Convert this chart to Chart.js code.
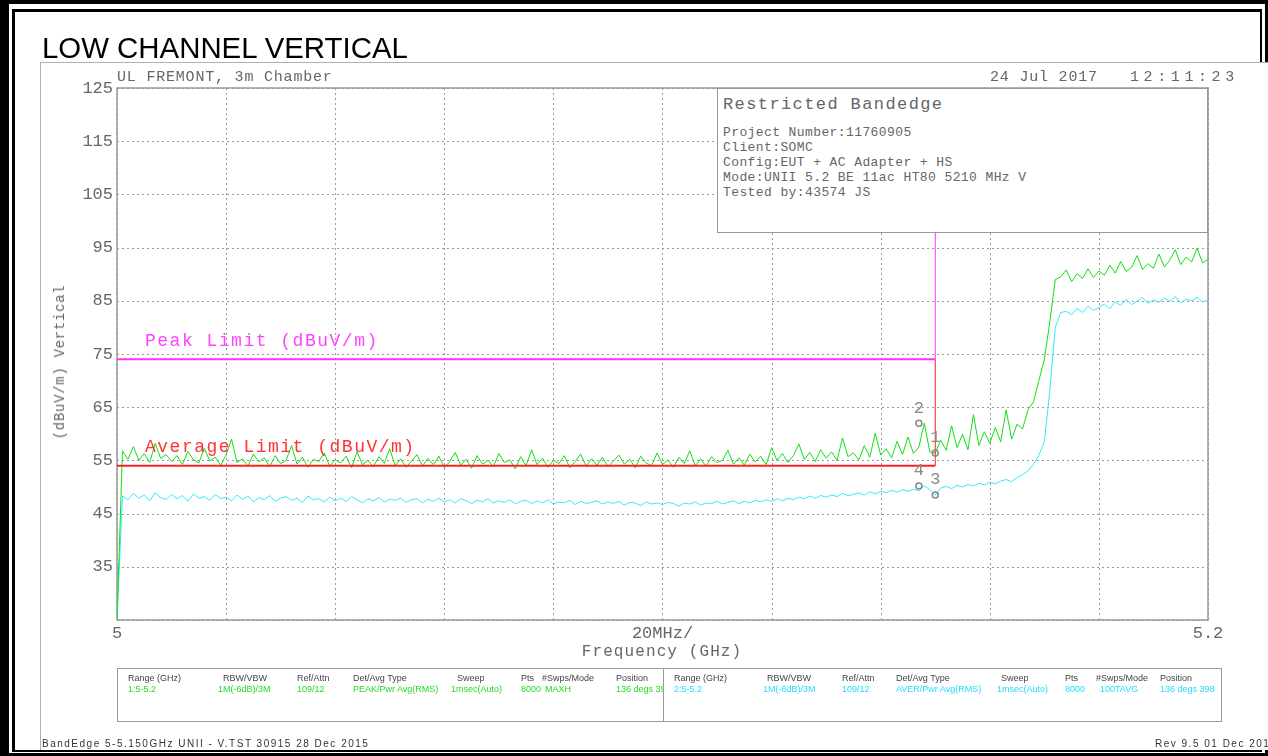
<!DOCTYPE html>
<html>
<head>
<meta charset="utf-8">
<script src="https://cdn.jsdelivr.net/npm/chart.js@4.4.1/dist/chart.umd.min.js"></script>
<style>
  body { margin: 0; width: 1268px; height: 756px; overflow: hidden; background: #fff; position: relative; }
  .abs { position: absolute; white-space: pre; line-height: 1; }
  #outer { position: absolute; left: 0; top: 0; width: 1268px; height: 756px; box-sizing: border-box;
           border-style: solid; border-color: #000; border-width: 4px 3px 3px 9px; }
  #inner { position: absolute; left: 12px; top: 9px; width: 1250px; height: 743px; box-sizing: border-box;
           border: 3px solid #000; border-right-width: 2px; border-bottom-width: 2px; }
  #img { position: absolute; left: 40px; top: 62px; width: 1228px; height: 688px; box-sizing: border-box;
         background: #fff; border-left: 1.5px solid #b0b0b0; border-top: 1.5px solid #b0b0b0; }
  #chart { position: absolute; left: 0; top: 0; }
  .plot { font-family: "Liberation Mono", "DejaVu Sans Mono", monospace; color: #666; }
  #info { position: absolute; left: 717px; top: 88px; width: 491px; height: 145px; box-sizing: border-box;
          background: #fff; border: 1.5px solid #999; }
  .tbl { position: absolute; top: 668px; height: 54px; box-sizing: border-box; overflow: hidden; }
  .tbl span { position: absolute; white-space: pre; line-height: 1; font-family: "Liberation Sans Narrow", "Liberation Sans", sans-serif; font-size: 9px; }
  .hd { color: #444; top: 5px; }
  .g { color: #22dd22; top: 16px; }
  .c { color: #22ddff; top: 16px; }
  .foot { font-family: "Liberation Sans Narrow", "Liberation Sans", sans-serif; font-size: 10px; letter-spacing: 1.5px; color: #333; }
</style>
</head>
<body>
<div id="outer"></div>
<div id="inner"></div>
<div id="img"></div>
<canvas id="chart" width="1268" height="756"></canvas>

<div class="abs" style="left:42px;top:33px;font-family:'Liberation Sans',Arial,sans-serif;font-size:29.4px;color:#000;">LOW CHANNEL VERTICAL</div>

<div class="abs plot" style="left:117px;top:70px;font-size:15px;letter-spacing:0.8px;">UL FREMONT, 3m Chamber</div>
<div class="abs plot" style="left:990px;top:70px;font-size:15px;letter-spacing:0.8px;">24 Jul 2017</div>
<div class="abs plot" style="left:1130px;top:70px;font-size:15px;letter-spacing:4.6px;">12:11:23</div>

<div id="info">
  <div class="abs plot" style="left:5px;top:7px;font-size:17px;letter-spacing:1.4px;">Restricted Bandedge</div>
  <div class="abs plot" style="left:5px;top:36px;font-size:13px;letter-spacing:0.4px;line-height:15px;">Project Number:11760905
Client:SOMC
Config:EUT + AC Adapter + HS
Mode:UNII 5.2 BE 11ac HT80 5210 MHz V
Tested by:43574 JS</div>
</div>

<div class="abs plot" style="left:145px;top:332px;font-size:18px;letter-spacing:1.5px;color:#ff44ff;">Peak Limit (dBuV/m)</div>
<div class="abs plot" style="left:145px;top:438px;font-size:18px;letter-spacing:1.5px;color:#ff3333;">Average Limit (dBuV/m)</div>

<div class="abs plot" style="left:60px;top:362px;font-size:14px;letter-spacing:0.7px;transform:translate(-50%,-50%) rotate(-90deg);">(dBuV/m) Vertical</div>
<div class="abs plot" style="left:662px;top:652px;font-size:16px;letter-spacing:1.1px;transform:translate(-50%,-50%);">Frequency (GHz)</div>

<div class="tbl" style="left:117px;width:547px;border:1.5px solid #999;">
  <span class="hd" style="left:10px">Range (GHz)</span>
  <span class="hd" style="left:105px">RBW/VBW</span>
  <span class="hd" style="left:179px">Ref/Attn</span>
  <span class="hd" style="left:235px">Det/Avg Type</span>
  <span class="hd" style="left:339px">Sweep</span>
  <span class="hd" style="left:403px">Pts</span>
  <span class="hd" style="left:424px">#Swps/Mode</span>
  <span class="hd" style="left:498px">Position</span>
  <span class="g" style="left:10px">1:5-5.2</span>
  <span class="g" style="left:100px">1M(-6dB)/3M</span>
  <span class="g" style="left:179px">109/12</span>
  <span class="g" style="left:235px">PEAK/Pwr Avg(RMS)</span>
  <span class="g" style="left:333px">1msec(Auto)</span>
  <span class="g" style="left:403px">8000</span>
  <span class="g" style="left:427px">MAXH</span>
  <span class="g" style="left:498px">136 degs 398</span>
</div>
<div class="tbl" style="left:663px;width:559px;border:1.5px solid #999;border-left:none;">
  <span class="hd" style="left:11px">Range (GHz)</span>
  <span class="hd" style="left:104px">RBW/VBW</span>
  <span class="hd" style="left:179px">Ref/Attn</span>
  <span class="hd" style="left:233px">Det/Avg Type</span>
  <span class="hd" style="left:338px">Sweep</span>
  <span class="hd" style="left:402px">Pts</span>
  <span class="hd" style="left:433px">#Swps/Mode</span>
  <span class="hd" style="left:497px">Position</span>
  <span class="c" style="left:11px">2:5-5.2</span>
  <span class="c" style="left:100px">1M(-6dB)/3M</span>
  <span class="c" style="left:179px">109/12</span>
  <span class="c" style="left:233px">AVER/Pwr Avg(RMS)</span>
  <span class="c" style="left:334px">1msec(Auto)</span>
  <span class="c" style="left:402px">8000</span>
  <span class="c" style="left:437px">100TAVG</span>
  <span class="c" style="left:497px">136 degs 398</span>
</div>

<div class="abs foot" style="left:42px;top:739px;">BandEdge 5-5.150GHz UNII - V.TST 30915 28 Dec 2015</div>
<div class="abs foot" style="left:1155px;top:739px;">Rev 9.5 01 Dec 2015</div>

<script>
// sweep: 5.000 .. 5.200 GHz, one reading per MHz
const startGHz = 5.0;
const stepGHz = 0.001;

// trace 1, MAXH peak (dBuV/m)
const peakTrace = [
  25,
  56.8, 55.2, 57.6, 55.0, 56.3, 54.6, 58.2, 55.4, 56.1, 54.8,
  55.9, 54.2, 56.7, 55.1, 54.5, 57.3, 54.9, 55.6, 54.1, 56.0,
  59.0, 54.6, 55.3, 53.9, 56.2, 54.7, 55.5, 53.8, 55.9, 54.4,
  55.0, 57.8, 54.3, 55.6, 53.7, 55.2, 54.8, 56.4, 53.9, 55.1,
  54.5, 55.8, 53.6, 56.6, 54.2, 55.0, 53.8, 55.7, 54.4, 57.2,
  54.0, 55.3, 53.7, 54.9, 56.1, 53.9, 55.4, 54.2, 55.8, 53.6,
  54.8, 56.5, 54.1, 55.2, 53.5, 55.9, 54.3, 55.0, 53.8, 56.3,
  54.6, 55.1, 53.4, 55.7, 54.0, 57.0, 54.2, 55.4, 53.7, 55.0,
  54.4, 55.9, 53.6, 54.8, 56.2, 53.9, 55.3, 54.1, 55.6, 53.8,
  54.9, 56.0, 54.3, 55.2, 53.6, 55.8, 54.5, 54.0, 56.4, 54.2,
  55.1, 53.7, 55.6, 54.4, 56.8, 54.0, 55.3, 53.9, 55.7, 54.6,
  55.0, 56.9, 54.3, 55.5, 54.1, 56.2, 54.7, 55.8, 54.2, 57.4,
  55.0, 56.3, 54.6, 55.9, 58.1, 55.2, 56.5, 54.8, 57.0, 55.4,
  56.6, 55.0, 59.2, 55.7, 56.4, 55.1, 57.8, 55.6, 60.1, 56.0,
  57.2, 55.5, 58.6, 56.1, 59.4, 56.3, 57.5, 62.0, 56.6, 56.4,
  58.8, 56.9, 61.5, 57.4, 59.9, 57.0, 63.6, 57.8, 60.4, 58.2,
  61.2, 58.5, 64.5, 59.0, 61.8, 60.9, 64.5, 66.0, 70.0, 74.0,
  81.0, 89.0, 89.5, 90.8, 88.6, 90.1, 89.2, 91.0, 89.4, 90.6,
  89.8, 91.7, 90.2, 92.4, 90.5, 91.3, 93.5, 90.9, 92.0, 91.1,
  93.8, 91.4, 92.6, 94.6, 91.8, 93.2, 92.3, 94.9, 92.1, 92.8
];

// trace 2, 100 sweep RMS average (dBuV/m)
const avgTrace = [
  25,
  48.3, 47.6, 48.8, 47.9, 48.5, 47.4, 48.9, 48.0, 47.7, 48.6,
  47.8, 48.4, 47.3, 48.7, 47.9, 48.2, 47.5, 48.6, 47.8, 48.1,
  47.4, 48.5, 47.7, 48.3, 47.2, 48.0, 47.6, 48.4, 47.3, 47.9,
  48.2, 47.5, 47.9, 47.1, 48.3, 47.6, 47.8, 47.2, 48.1, 47.4,
  47.9, 47.3, 48.2, 47.6, 47.0, 47.8, 47.4, 48.0, 47.2, 47.7,
  47.5, 47.9, 47.1, 47.6, 47.8, 47.0, 47.7, 47.3, 47.9, 47.2,
  47.6, 47.0, 47.8, 47.4, 46.9, 47.5, 47.2, 47.8, 47.0, 47.4,
  47.1, 47.6, 46.8, 47.3, 47.5, 46.9, 47.4, 47.0, 47.6, 46.8,
  47.2, 47.0, 47.5, 46.7, 47.3, 46.9, 47.1, 47.4, 46.8, 47.2,
  46.9, 47.3, 46.6, 47.1, 47.0, 46.5, 47.2, 46.8, 47.0, 46.7,
  47.1, 46.9, 46.4, 47.0, 46.8, 47.2, 46.6, 47.0, 46.9, 47.3,
  46.8, 47.1, 47.4, 46.9, 47.3, 47.0, 47.5, 47.2, 47.6, 47.3,
  47.8, 47.4, 47.9, 47.6, 48.1, 47.8, 48.3, 47.9, 48.4, 48.1,
  48.5, 48.2, 48.8, 48.4, 48.6, 48.9, 48.5, 49.1, 48.7, 49.2,
  48.9, 49.4, 49.0, 49.5, 49.2, 49.6, 49.3, 50.2, 49.5, 48.5,
  49.8, 50.1, 49.7, 50.3, 50.0, 50.5, 50.2, 50.7, 50.4, 50.9,
  50.6, 51.1, 51.4, 51.0, 51.8, 52.3, 53.0, 54.2, 56.0, 58.5,
  68.0, 80.0, 82.8, 83.0, 82.4, 83.6, 82.8, 84.0, 83.2, 83.7,
  84.4, 83.5, 84.8, 84.1, 85.3, 84.3, 84.9, 85.6, 84.5, 85.2,
  84.7, 85.5, 84.9, 85.8, 84.6, 85.3, 85.0, 85.7, 84.8, 85.1
];

// limit lines (GHz, dBuV/m)
const limitFreqs = [5.0, 5.15, 5.15];
const peakLimit = [74, 74, 125];
const avgLimit = [54, 54, 74];

// markers
const markerNames = ['1', '2', '3', '4'];
const markerFreqs = [5.15, 5.147, 5.15, 5.147];
const markerLevels = [56.4, 62.0, 48.5, 50.2];

const toXY = arr => arr.map((v, i) => ({ x: startGHz + i * stepGHz, y: v }));
const limXY = arr => arr.map((v, i) => ({ x: limitFreqs[i], y: v }));

// dotted grid + grey frame, then marker numbers
const frame = {
  id: 'frame',
  beforeDatasetsDraw(chart) {
    const a = chart.chartArea, ctx = chart.ctx, xs = chart.scales.x, ys = chart.scales.y;
    ctx.save();
    ctx.strokeStyle = '#999';
    ctx.lineWidth = 1;
    ctx.setLineDash([2, 3]);
    ctx.beginPath();
    xs.ticks.forEach(t => {
      const px = Math.round(xs.getPixelForValue(t.value)) + 0.5;
      ctx.moveTo(px, a.top); ctx.lineTo(px, a.bottom);
    });
    ys.ticks.forEach(t => {
      const py = Math.round(ys.getPixelForValue(t.value)) + 0.5;
      ctx.moveTo(a.left, py); ctx.lineTo(a.right, py);
    });
    ctx.stroke();
    ctx.setLineDash([]);
    ctx.lineWidth = 1.5;
    ctx.strokeRect(a.left, a.top, a.right - a.left, a.bottom - a.top);
    ctx.restore();
  },
  afterDatasetsDraw(chart) {
    const ctx = chart.ctx, xs = chart.scales.x, ys = chart.scales.y;
    ctx.save();
    ctx.fillStyle = '#888';
    ctx.font = '17px "Liberation Mono", monospace';
    ctx.textAlign = 'center';
    ctx.textBaseline = 'middle';
    markerNames.forEach((n, i) => {
      ctx.fillText(n, xs.getPixelForValue(markerFreqs[i]), ys.getPixelForValue(markerLevels[i]) - 15);
    });
    ctx.restore();
  }
};

new Chart('chart', {
  type: 'line',
  data: {
    datasets: [
      { data: markerFreqs.map((f, i) => ({ x: f, y: markerLevels[i] })), showLine: false,
        pointRadius: 3, pointBorderColor: '#888', pointBackgroundColor: 'rgba(0,0,0,0)', pointBorderWidth: 1.5, order: 0 },
      { data: limXY(peakLimit), borderColor: '#ff33ff', borderWidth: 2, pointRadius: 0, order: 1,
        segment: { borderWidth: c => c.p0DataIndex === 1 ? 1 : 2 } },
      { data: limXY(avgLimit), borderColor: '#ff2020', borderWidth: 2, pointRadius: 0, order: 1,
        segment: { borderWidth: c => c.p0DataIndex === 1 ? 1 : 2 } },
      { data: toXY(peakTrace), borderColor: '#11e011', borderWidth: 1, pointRadius: 0, order: 2 },
      { data: toXY(avgTrace), borderColor: '#30eaff', borderWidth: 1, pointRadius: 0, order: 3 }
    ]
  },
  options: {
    responsive: false,
    animation: false,
    events: [],
    layout: { padding: { left: 77, top: 88, right: 60, bottom: 96 } },
    plugins: { legend: { display: false }, tooltip: { enabled: false } },
    elements: { line: { tension: 0 } },
    scales: {
      x: {
        type: 'linear', min: 5.0, max: 5.2,
        afterFit: s => { s.height = 40; },
        grid: { display: false, drawTicks: false },
        border: { display: false },
        ticks: {
          stepSize: 0.02, autoSkip: false, maxRotation: 0, padding: 3,
          color: '#666', font: { family: '"Liberation Mono", monospace', size: 17 },
          callback: v => Math.abs(v - 5) < 1e-6 ? '5' : Math.abs(v - 5.1) < 1e-6 ? '20MHz/' : Math.abs(v - 5.2) < 1e-6 ? '5.2' : ''
        }
      },
      y: {
        min: 25, max: 125,
        afterFit: s => { s.width = 40; },
        grid: { display: false, drawTicks: false },
        border: { display: false },
        ticks: {
          stepSize: 10, padding: 4,
          color: '#666', font: { family: '"Liberation Mono", monospace', size: 17 },
          callback: v => v === 25 ? '' : String(v)
        }
      }
    }
  },
  plugins: [frame]
});
</script>
</body>
</html>
